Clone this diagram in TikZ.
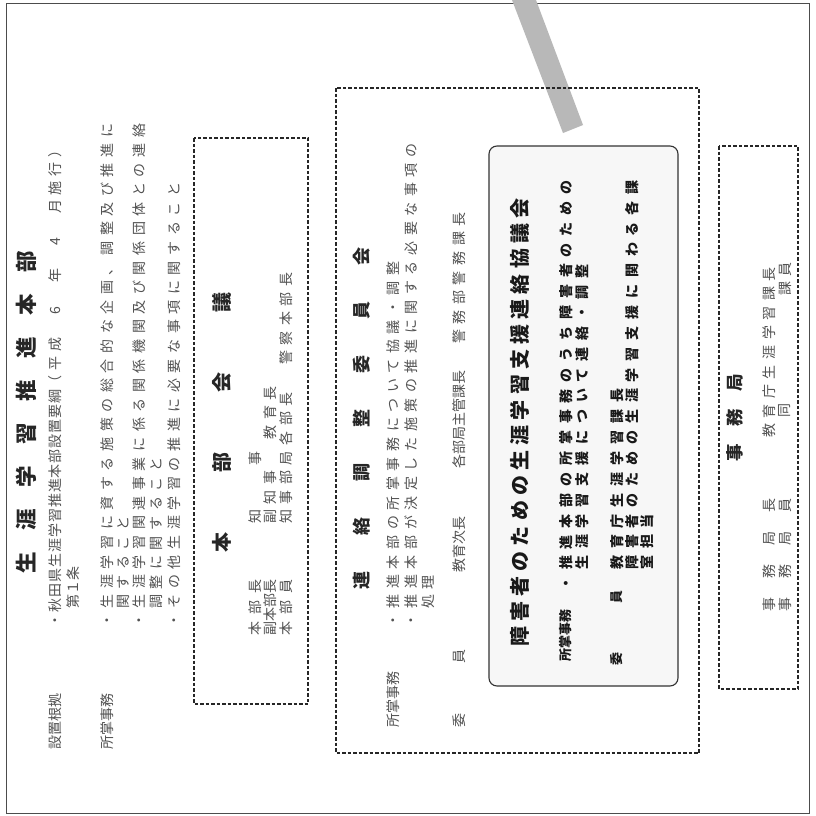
\documentclass[tikz,border=0pt]{standalone}
\usepackage{fontspec}
\usepackage{tikz}
\newfontfamily\jp{Noto Sans CJK JP}
\newcommand{\trk}[1]{\addfontfeatures{LetterSpace=#1}}
\tikzset{
  frame/.style={draw=black!70, line width=0.8pt},
  dashbox/.style={draw=black!85, line width=1.3pt, dash pattern=on 3.5pt off 2pt},
  roundbox/.style={draw=black!80, line width=1.1pt, rounded corners=8pt, fill=black!3},
  vtxt/.style={rotate=90, inner sep=0pt, anchor=west, text=black!68, font=\jp\fontsize{14}{14}\selectfont},
  vlbl/.style={vtxt, font=\jp\fontsize{14}{14}\selectfont},
  vtrk/.style={vtxt, font=\jp\fontsize{14}{14}\selectfont\trk{40}},
  vhead/.style={rotate=90, inner sep=0pt, text=black!85, font=\jp\bfseries\fontsize{#1}{#1}\selectfont},
  blbl/.style={vtxt, text=black!90, font=\jp\bfseries\fontsize{13}{13}\selectfont},
  btrk/.style={vtxt, text=black!90, font=\jp\bfseries\fontsize{14}{14}\selectfont\trk{49}},
}
\begin{document}
\begin{tikzpicture}[x=1pt, y=-1pt]
  \fill[white] (0,0) rectangle (816,816);
  \useasboundingbox (0,0) rectangle (816,816);
  \draw[frame] (6,3) rectangle (809,813);
  % gray strip
  \fill[black!28] (512,0) -- (536,0) -- (583,125) -- (563,133) -- cycle;

  \node[vhead=21.5] (ttl) at (26,412) {生　涯　学　習　推　進　本　部};

  % setting basis and duties
  \node[vlbl] (lb1) at (55,750) {設置根拠};
  \node[vtxt] (k1) at (55,628) {{\trk{7}・秋田県生涯学習推進本部設置要綱}{\trk{34}（平成　6　年　4　月施行）}};
  \node[vtxt] (k1b) at (73,609) {第１条};
  \node[vlbl] (lb2) at (107,750) {所掌事務};
  \node[vtrk] (s1) at (107,628) {・生涯学習に資する施策の総合的な企画、調整及び推進に};
  \node[vtrk] (s1b) at (123,609) {関すること};
  \node[vtrk] (s2) at (139,628) {・生涯学習関連事業に係る関係機関及び関係団体との連絡};
  \node[vtrk] (s2b) at (156,609) {調整に関すること};
  \node[vtrk] (s3) at (174,628) {・その他生涯学習の推進に必要な事項に関すること};

  % headquarters meeting
  \draw[dashbox] (194,138) rectangle (308,704);
  \node[vhead=20] (hb) at (222,422) {本　　　部　　　会　　　議};
  \node[vlbl] (m1) at (255,636) {本\enspace 部\enspace 長};
  \node[vtrk] (m1v) at (255,524) {知　　事};
  \node[vlbl] (m2) at (270,636) {副本部長};
  \node[vtrk] (m2v) at (270,524) {副知事};
  \node[vtrk, anchor=east] (m2w) at (270,386) {教育長};
  \node[vlbl] (m3) at (286,636) {本\enspace 部\enspace 員};
  \node[vtrk] (m3v) at (286,524) {知事部局各部長};
  \node[vtrk] (m3w) at (286,365) {警察本部長};

  % liaison committee
  \draw[dashbox] (336,88) rectangle (699,753);
  \node[vhead=18] (hr) at (362,418) {連　　絡　　調　　整　　委　　員　　会};
  \node[vlbl] (r0) at (393,728) {所掌事務};
  \node[vtrk] (r1) at (393,628) {・推進本部の所掌事務について協議・調整};
  \node[vtrk] (r2) at (411,628) {・推進本部が決定した施策の推進に関する必要な事項の};
  \node[vtrk] (r2b) at (428,609) {処理};
  \node[vlbl] (r3) at (459,728) {委\hspace{50pt}員};
  \node[vtxt] (r4) at (459,573) {教育次長};
  \node[vtxt] (r5) at (459,469) {各部局主管課長};
  \node[vtrk] (r6) at (459,344) {警務部警務課長};

  % council box
  \draw[roundbox] (489,146) rectangle (678,686);
  \node[vhead=20, anchor=west, text=black!90, font=\jp\bfseries\fontsize{20}{20}\selectfont\trk{26}] (hc) at (520,647) {障害者のための生涯学習支援連絡協議会};
  \node[blbl] (b0) at (566,662) {所掌事務};
  \node[btrk] (b1) at (566,591) {・推進本部の所掌事務のうち障害者のための};
  \node[btrk] (b2) at (582,570) {生涯学習支援について連絡・調整};
  \node[blbl] (b3) at (617,666) {委\hspace{49pt}員};
  \node[btrk] (b4) at (617,570) {教育庁生涯学習課長};
  \node[btrk] (b5) at (632,570) {障害者のための生涯学習支援に関わる各課};
  \node[btrk] (b6) at (647,570) {室担当};

  % secretariat
  \draw[dashbox] (719,146) rectangle (798,689);
  \node[vhead=17.5] (hj) at (735,418) {事　務　局};
  \node[vlbl] (j1) at (769,612) {事\hspace{19pt}務\hspace{19pt}局\hspace{19pt}長};
  \node[vtrk] (j1v) at (769,438) {教育庁生涯学習課長};
  \node[vlbl] (j2) at (785,612) {事\hspace{19pt}務\hspace{19pt}局\hspace{19pt}員};
  \node[vtxt, anchor=center] (j2v) at (785,410) {同};
  \node[vtrk, anchor=east] (j2w) at (785,262) {課員};
\end{tikzpicture}
\end{document}
